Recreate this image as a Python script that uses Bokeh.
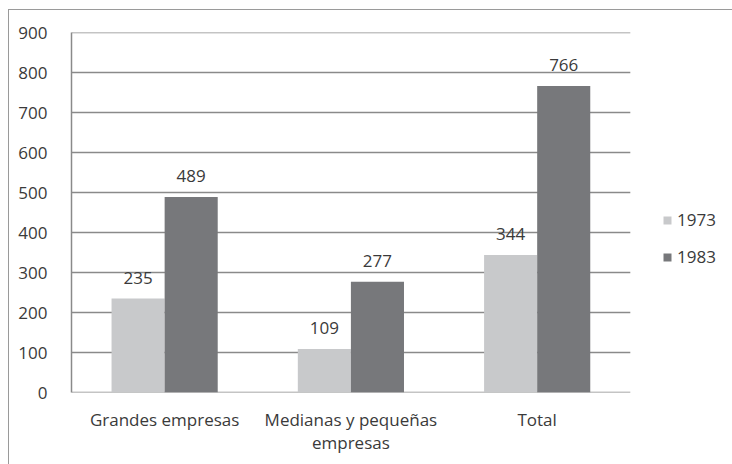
from bokeh.plotting import figure
from bokeh.models import ColumnDataSource, Legend, LegendItem, FixedTicker, Range1d
from bokeh.transform import dodge
from bokeh.core.properties import value
from bokeh.embed import file_html
from bokeh.resources import INLINE

categories = ["Grandes empresas", "Medianas y pequeñas\nempresas", "Total"]
series_names = ["1973", "1983"]
values_1973 = [235, 109, 344]
values_1983 = [489, 277, 766]
y_ticks = [0, 100, 200, 300, 400, 500, 600, 700, 800, 900]

FONT = "Open Sans"
FS = "17px"
TEXT_COLOR = "#3a3a3a"
GRID = "#8a8a8a"
C1973 = "#c8c9cb"
C1983 = "#77787b"

n = len(categories)
xpos = [i + 0.5 for i in range(n)]          # category centres on the numeric scale

src = ColumnDataSource(dict(
    x=xpos,
    v1973=values_1973,
    v1983=values_1983,
    l1973=[str(v) for v in values_1973],
    l1983=[str(v) for v in values_1983],
))

p = figure(
    width=724, height=455,
    x_range=Range1d(0, n + 0.554),            # extra room on the right holds the legend
    y_range=Range1d(0, 900),
    output_backend="svg", toolbar_location=None,
    min_border_left=62, min_border_right=0, min_border_top=22, min_border_bottom=73,
)
p.styles = {"border-left": "1.5px solid #9a9a9a", "border-top": "1.5px solid #9a9a9a",
            "margin-left": "8px", "margin-top": "9px"}
p.outline_line_color = None
p.background_fill_color = "white"

# horizontal gridlines limited to the category area
p.segment(x0=[0] * len(y_ticks), x1=[n] * len(y_ticks), y0=y_ticks, y1=y_ticks,
          line_color=GRID, line_width=1.5)

bw = 0.285
r1 = p.vbar(x=dodge("x", -bw / 2), top="v1973", width=bw, source=src,
            fill_color=C1973, line_color=None)
r2 = p.vbar(x=dodge("x", bw / 2), top="v1983", width=bw, source=src,
            fill_color=C1983, line_color=None)

for col, lab, off in (("v1973", "l1973", -bw / 2), ("v1983", "l1983", bw / 2)):
    p.text(x=dodge("x", off), y=col, text=lab, source=src,
           text_align="center", text_baseline="bottom", y_offset=-15,
           text_font=value(FONT), text_font_size=FS, text_color=TEXT_COLOR)

p.xgrid.grid_line_color = None
p.ygrid.grid_line_color = None

p.yaxis.ticker = FixedTicker(ticks=y_ticks)
p.xaxis.ticker = FixedTicker(ticks=xpos)
p.xaxis.major_label_overrides = {x: c for x, c in zip(xpos, categories)}
for ax in (p.xaxis[0], p.yaxis[0]):
    ax.major_tick_line_color = None
    ax.minor_tick_line_color = None
    ax.major_label_text_font = FONT
    ax.major_label_text_font_size = FS
    ax.major_label_text_color = TEXT_COLOR
p.yaxis.axis_line_color = GRID
p.yaxis.axis_line_width = 1.5
p.xaxis.axis_line_color = None
p.yaxis.major_label_standoff = 18
p.xaxis.major_label_standoff = 9
p.xaxis.major_label_text_line_height = 1.0

legend = Legend(
    items=[LegendItem(label=series_names[0], renderers=[r1]),
           LegendItem(label=series_names[1], renderers=[r2])],
    location=(591, 124), padding=0, margin=0, spacing=14,
    glyph_width=10, glyph_height=10, label_height=20, label_standoff=5,
    label_text_font=FONT, label_text_font_size=FS, label_text_color=TEXT_COLOR,
    border_line_color=None, background_fill_alpha=0,
)
p.add_layout(legend)

open("out.html", "w").write(file_html(p, INLINE))
